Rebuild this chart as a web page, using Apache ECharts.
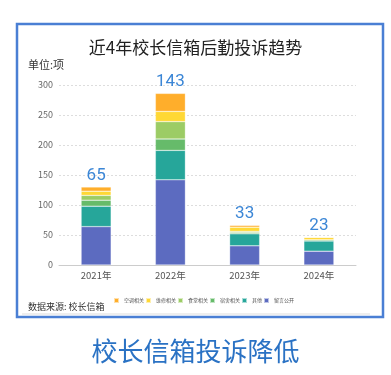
<!DOCTYPE html>
<html><head><meta charset="utf-8">
<script src="https://cdn.jsdelivr.net/npm/echarts@6/dist/echarts.min.js"></script>
<style>html,body{margin:0;padding:0;background:#fff;}#c{width:391px;height:375px;}</style>
</head><body><div id="c"></div>
<script>
const categories = ['2021年','2022年','2023年','2024年'];
const totals = [65, 143, 33, 23];
const seriesNames = ['空调相关','维修相关','食堂相关','宿舍相关','其他','留言公开'];
const sAircon = [7, 30, 3, 0];
const sRepair = [7, 17, 7, 4];
const sCanteen = [8, 29, 2, 0];
const sDorm = [10, 19, 2, 2];
const sOther = [34, 49, 20, 17];
const sPublic = [64, 142, 32, 23];
const yTicks = [0, 50, 100, 150, 200, 250, 300];

const colors = ['#FFAE2B','#FFD835','#9CCC65','#66BB6A','#26A69A','#5C6BC0'];
const dataBySeries = [sAircon, sRepair, sCanteen, sDorm, sOther, sPublic];
const stackOrder = [5,4,3,2,1,0];

const chart = echarts.init(document.getElementById('c'), null, {renderer:'canvas'});
const series = stackOrder.map(i => ({
  name: seriesNames[i], type:'bar', stack:'t', barWidth:30,
  itemStyle:{color:colors[i], borderColor:'rgba(255,255,255,0.6)', borderWidth:0.5},
  data: dataBySeries[i],
  label: i === 0 ? {show:true, position:'top', distance:3, fontSize:17, color:'#3b86d6',
    fontFamily:'Roboto', formatter: p => String(totals[p.dataIndex])} : {show:false},
  emphasis:{disabled:true}
}));
chart.setOption({
  animation:false,
  textStyle:{fontFamily:'"Noto Sans CJK SC", sans-serif'},
  title:{text:'近4年校长信箱后勤投诉趋势', left:'center', top:34,
    textStyle:{fontSize:17, fontWeight:'normal', color:'#222', fontFamily:'"Noto Sans CJK SC"'}},
  legend:{data:seriesNames, left:108, top:292, itemWidth:5, itemHeight:5, itemGap:1,
    icon:'rect', textStyle:{fontSize:5, color:'#555'}},
  grid:{left:59, right:35, top:85, bottom:110},
  xAxis:{type:'category', data:categories,
    axisLine:{lineStyle:{color:'#ccc'}}, axisTick:{show:false},
    axisLabel:{fontSize:9.5, color:'#555', margin:6}},
  yAxis:{type:'value', min:yTicks[0], max:yTicks[yTicks.length-1], interval:50,
    axisLine:{show:false}, axisTick:{show:false},
    axisLabel:{fontSize:9, color:'#666', margin:6},
    splitLine:{lineStyle:{color:'#ddd', type:[2,2]}}},
  series: series,
  graphic:[
    {type:'rect', shape:{x:17, y:24, width:366, height:293}, style:{fill:'none', stroke:'#4a7fd4', lineWidth:2.5}, z:-1},
    {type:'text', left:28, top:59, style:{text:'单位:项', fontSize:11, fill:'#333', fontFamily:'"Noto Sans CJK SC"'}},
    {type:'text', left:28, top:302, style:{text:'数据来源: 校长信箱', fontSize:9, fill:'#333', fontFamily:'"Noto Sans CJK SC"'}},
    {type:'line', shape:{x1:22, y1:314, x2:370, y2:314}, style:{stroke:'#ddd', lineWidth:1}},
    {type:'text', left:'center', top:338, style:{text:'校长信箱投诉降低', fontSize:26, fill:'#2a72c4', fontFamily:'"Noto Sans CJK SC"'}}
  ]
});
</script></body></html>
